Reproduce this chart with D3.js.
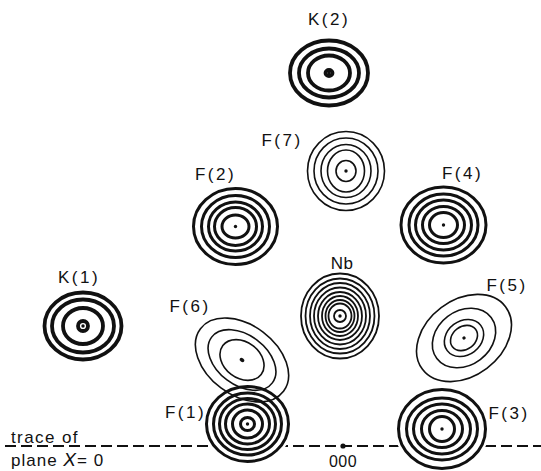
<!DOCTYPE html>
<html>
<head>
<meta charset="utf-8">
<script src="https://cdn.jsdelivr.net/npm/d3@7"></script>
<style>
  body { margin: 0; background: #fff; }
  svg { display: block; }
  text { font-family: "Liberation Sans", Arial, sans-serif; fill: #111; }
</style>
</head>
<body>
<div id="chart"></div>
<script>
// projected electron density, one set of contours per atom
// positions and contour semi-axes in map units, origin at 000
const atomNames = ['K(2)', 'F(7)', 'F(2)', 'F(4)', 'K(1)', 'Nb', 'F(6)', 'F(5)', 'F(1)', 'F(3)'];
const atomX = [-0.28, 0.06, -2.15, 2.01, -5.20, -0.06, -2.02, 2.42, -1.91, 1.98];
const atomY = [7.46, 5.50, 4.39, 4.42, 2.40, 2.60, 1.72, 2.16, 0.44, 0.34];
const atomLevel = ['upper', 'lower', 'upper', 'upper', 'upper', 'mid', 'lower', 'lower', 'upper', 'upper'];
const atomTilt = [0, 0, 0, 0, 0, 0, 37, -37, 0, 0];

const contourA = [
  [0.78, 0.60, 0.42, 0.07],
  [0.77, 0.64, 0.50, 0.37, 0.20],
  [0.84, 0.68, 0.54, 0.42, 0.27],
  [0.85, 0.69, 0.56, 0.42, 0.28],
  [0.77, 0.62, 0.40, 0.10],
  [0.78, 0.69, 0.60, 0.52, 0.44, 0.36, 0.29, 0.23, 0.12],
  [1.04, 0.76, 0.48],
  [1.04, 0.68, 0.42, 0.29],
  [0.82, 0.68, 0.56, 0.44, 0.30, 0.14],
  [0.87, 0.71, 0.57, 0.41, 0.25]
];
const contourB = [
  [0.65, 0.49, 0.35, 0.06],
  [0.79, 0.66, 0.53, 0.42, 0.21],
  [0.76, 0.62, 0.49, 0.38, 0.23],
  [0.76, 0.62, 0.50, 0.37, 0.25],
  [0.67, 0.53, 0.36, 0.10],
  [0.85, 0.75, 0.66, 0.57, 0.48, 0.40, 0.32, 0.25, 0.12],
  [0.70, 0.50, 0.36],
  [0.76, 0.54, 0.34, 0.23],
  [0.75, 0.62, 0.51, 0.40, 0.28, 0.13],
  [0.79, 0.62, 0.50, 0.37, 0.25]
];

const traceX = [-6.76, 3.96];   // trace of plane X = 0 runs along y = 0
const originLabel = '000';

// label placement, px from the atom centre
const labelAt = {
  'K(2)': [0, -53], 'F(7)': [-64, -30], 'F(2)': [-20, -52], 'F(4)': [19, -51],
  'K(1)': [-4, -48], 'Nb': [2, -52], 'F(6)': [-52, -53], 'F(5)': [43, -52],
  'F(1)': [-62, -11], 'F(3)': [67, -15]
};

const width = 541, height = 471;
const x = d3.scaleLinear().domain([0, 1]).range([343, 393]);
const y = d3.scaleLinear().domain([0, 1]).range([446, 396]);
const len = d => x(d) - x(0);

const penWidth = (i) => {
  if (atomLevel[i] === 'mid') return 1.8;
  if (atomLevel[i] === 'lower') return 1.6;
  return atomNames[i][0] === 'K' ? 3.8 : 3.0;
};

const svg = d3.select('#chart').append('svg')
  .attr('width', width)
  .attr('height', height);

// the dashed trace is broken where it passes under an atom
const mask = svg.append('defs').append('mask')
  .attr('id', 'trace-gap')
  .attr('maskUnits', 'userSpaceOnUse')
  .attr('x', 0).attr('y', 0).attr('width', width).attr('height', height);
mask.append('rect').attr('width', width).attr('height', height).attr('fill', 'white');
atomNames.forEach((name, i) => {
  mask.append('ellipse')
    .attr('transform', `translate(${x(atomX[i])},${y(atomY[i])}) rotate(${atomTilt[i]})`)
    .attr('rx', len(contourA[i][0]) + 4)
    .attr('ry', len(contourB[i][0]) + 4)
    .attr('fill', 'black');
});

svg.append('line')
  .attr('x1', x(traceX[0]))
  .attr('x2', x(traceX[1]))
  .attr('y1', y(0))
  .attr('y2', y(0))
  .attr('stroke', '#111')
  .attr('stroke-width', 1.8)
  .attr('stroke-dasharray', '11,5')
  .attr('mask', 'url(#trace-gap)');

svg.append('circle')
  .attr('cx', x(0))
  .attr('cy', y(0))
  .attr('r', 2.6)
  .attr('fill', '#111');

svg.append('text')
  .attr('x', x(0))
  .attr('y', y(0) + 21)
  .attr('text-anchor', 'middle')
  .style('font-size', '16px')
  .style('letter-spacing', '0.5px')
  .text(originLabel);

// contours
const atoms = svg.selectAll('.atom')
  .data(atomNames)
  .enter().append('g')
  .attr('class', 'atom')
  .attr('transform', (d, i) => `translate(${x(atomX[i])},${y(atomY[i])}) rotate(${atomTilt[i]})`);

atoms.each(function(name, i) {
  const g = d3.select(this);
  g.selectAll('.ring')
    .data(contourA[i])
    .enter().append('ellipse')
    .attr('class', 'ring')
    .attr('rx', (a) => len(a))
    .attr('ry', (a, k) => len(contourB[i][k]))
    .attr('fill', 'none')
    .attr('stroke', '#111')
    .attr('stroke-width', penWidth(i));
  g.append('ellipse')
    .attr('rx', name === 'F(6)' ? 2.6 : 1.7)
    .attr('ry', name === 'F(6)' ? 1.9 : 1.7)
    .attr('fill', '#111');
});

// atom labels
svg.selectAll('.label')
  .data(atomNames)
  .enter().append('text')
  .attr('class', 'label')
  .attr('x', (d, i) => x(atomX[i]) + labelAt[d][0])
  .attr('y', (d, i) => y(atomY[i]) + labelAt[d][1] + 5)
  .attr('text-anchor', 'middle')
  .style('font-size', '17px')
  .style('letter-spacing', (d) => d === 'Nb' ? '0.5px' : '2.5px')
  .text((d) => d);

// trace annotation
svg.append('text')
  .attr('x', x(traceX[0]) + 6)
  .attr('y', y(0) - 3)
  .style('font-size', '17px')
  .style('letter-spacing', '1.4px')
  .text('trace  of');

const plane = svg.append('text')
  .attr('x', x(traceX[0]) + 6)
  .attr('y', y(0) + 20)
  .style('font-size', '17px')
  .style('letter-spacing', '1px');
plane.append('tspan').text('plane  ');
plane.append('tspan').style('font-style', 'italic').style('font-size', '19px').text('X');
plane.append('tspan').text('= 0');
</script>
</body>
</html>
